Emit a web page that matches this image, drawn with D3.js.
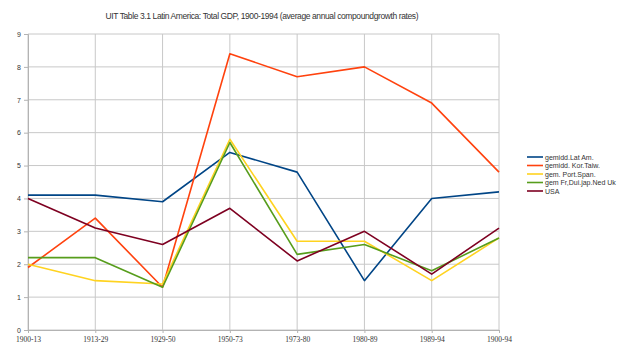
<!DOCTYPE html>
<html lang="en">
<head>
    <meta charset="utf-8">
    <script src="https://d3js.org/d3.v7.min.js"></script>
    <style>
        body { margin: 0; background: #fff; }
    </style>
</head>
<body>
<script>
    // periods and series (average annual compound growth rates)
    const periods = ["1900-13", "1913-29", "1929-50", "1950-73", "1973-80", "1980-89", "1989-94", "1900-94"];
    const latAm = [4.1, 4.1, 3.9, 5.4, 4.8, 1.5, 4.0, 4.2];
    const korTaiw = [1.9, 3.4, 1.3, 8.4, 7.7, 8.0, 6.9, 4.8];
    const portSpan = [2.0, 1.5, 1.4, 5.8, 2.7, 2.7, 1.5, 2.8];
    const frJapUk = [2.2, 2.2, 1.3, 5.7, 2.3, 2.6, 1.8, 2.8];
    const usa = [4.0, 3.1, 2.6, 3.7, 2.1, 3.0, 1.7, 3.1];
    const yTicks = [0, 1, 2, 3, 4, 5, 6, 7, 8, 9];

    const series = [
        { name: "gemidd.Lat Am.", values: latAm, color: "#004586" },
        { name: "gemidd. Kor.Taiw.", values: korTaiw, color: "#ff420e" },
        { name: "gem. Port.Span.", values: portSpan, color: "#ffd320" },
        { name: "gem Fr,Dui.jap.Ned Uk", values: frJapUk, color: "#579d1c" },
        { name: "USA", values: usa, color: "#7e0021" }
    ];

    const width = 622, height = 350;
    const plotLeft = 28, plotRight = 499, plotTop = 34, plotBottom = 330;

    const svg = d3.select("body").append("svg")
        .attr("width", width)
        .attr("height", height);

    const x = d3.scalePoint().domain(periods).range([plotLeft, plotRight]);
    const y = d3.scaleLinear().domain([0, 9]).range([plotBottom, plotTop]);

    // title
    svg.append("text")
        .attr("x", 262).attr("y", 19)
        .attr("text-anchor", "middle")
        .attr("textLength", 313)
        .style("font-family", "Liberation Sans, Arial, sans-serif")
        .style("font-size", "8.5px")
        .attr("fill", "#333")
        .text("UIT Table 3.1 Latin America: Total GDP, 1900-1994 (average annual compoundgrowth rates)");

    // horizontal grid
    svg.append("g").selectAll("line").data(yTicks).join("line")
        .attr("x1", plotLeft).attr("x2", plotRight)
        .attr("y1", d => y(d)).attr("y2", d => y(d))
        .attr("stroke", "#c8c8c8").attr("stroke-width", 1);

    // vertical grid
    svg.append("g").selectAll("line").data(periods).join("line")
        .attr("x1", d => x(d)).attr("x2", d => x(d))
        .attr("y1", plotTop).attr("y2", plotBottom)
        .attr("stroke", "#c8c8c8").attr("stroke-width", 1);

    // y axis
    const yAxis = svg.append("g")
        .attr("transform", `translate(${plotLeft},0)`)
        .call(d3.axisLeft(y).tickValues(yTicks).tickSize(4).tickPadding(3).tickFormat(d3.format("d")));
    yAxis.select(".domain").attr("stroke", "#b3b3b3");
    yAxis.selectAll(".tick line").attr("stroke", "#b3b3b3");
    yAxis.selectAll("text")
        .style("font-family", "Liberation Sans, Arial, sans-serif")
        .style("font-size", "7px").attr("fill", "#333");

    // x axis
    const xAxis = svg.append("g")
        .attr("transform", `translate(0,${plotBottom})`)
        .call(d3.axisBottom(x).tickSize(3).tickPadding(4));
    xAxis.select(".domain").attr("stroke", "#b3b3b3");
    xAxis.selectAll(".tick line").attr("stroke", "#b3b3b3");
    xAxis.selectAll("text")
        .style("font-family", "Liberation Serif, serif")
        .style("font-size", "7.5px").attr("fill", "#333");

    // lines
    const line = d3.line()
        .x((d, i) => x(periods[i]))
        .y(d => y(d));

    svg.append("g").selectAll("path").data(series).join("path")
        .attr("fill", "none")
        .attr("stroke", d => d.color)
        .attr("stroke-width", 1.6)
        .attr("stroke-linejoin", "round")
        .attr("d", d => line(d.values));

    // legend
    const legend = svg.append("g").selectAll("g").data(series).join("g")
        .attr("transform", (d, i) => `translate(527,${157 + i * 8.5})`);
    legend.append("line")
        .attr("x1", 0).attr("x2", 16)
        .attr("stroke", d => d.color).attr("stroke-width", 1.6);
    legend.append("text")
        .attr("x", 18).attr("y", 2.5)
        .style("font-family", "Liberation Sans, Arial, sans-serif")
        .style("font-size", "7px").attr("fill", "#333")
        .text(d => d.name);
</script>
</body>
</html>
